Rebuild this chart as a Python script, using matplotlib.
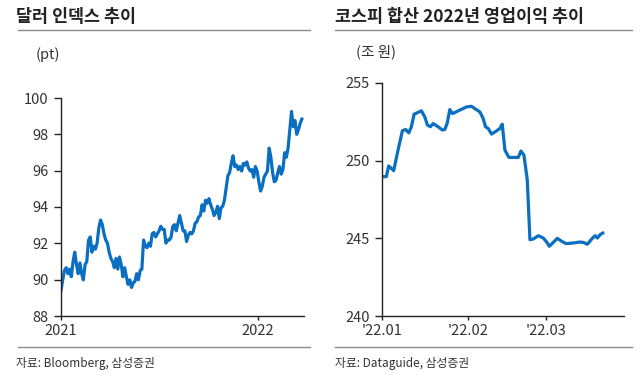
import numpy as np
import pandas as pd
import matplotlib
matplotlib.use("Agg")
import matplotlib.pyplot as plt
from matplotlib.lines import Line2D

plt.rcParams['font.family'] = ['Noto Sans CJK KR', 'DejaVu Sans']

# 달러 인덱스 (pt), 2021-01-01 ~ 2022-03-24 구간에서 읽은 값
dxy_start = "2021-01-01"
dxy_end = "2022-03-24"
dxy_values = [
    89.40, 89.99, 90.50, 90.66, 90.33, 90.58, 90.16, 91.00, 91.51, 90.83,
    90.33, 90.92, 90.33, 89.99, 90.83, 91.00, 92.18, 92.35, 91.51, 91.84,
    91.68, 92.01, 92.86, 93.28, 93.03, 92.52, 92.18, 92.01, 91.51, 91.17,
    91.00, 90.66, 91.17, 90.58, 91.25, 90.83, 90.16, 90.66, 90.16, 89.74,
    89.99, 89.57, 89.82, 89.91, 90.33, 89.99, 90.50, 90.58, 92.18, 91.84,
    91.76, 92.01, 91.84, 92.52, 92.60, 92.35, 92.52, 92.69, 92.94, 92.77,
    92.77, 92.01, 92.18, 92.18, 92.35, 92.94, 93.03, 92.69, 93.11, 93.53,
    93.11, 92.69, 92.69, 92.10, 92.44, 92.60, 92.52, 92.69, 93.11, 93.19,
    93.45, 93.53, 94.12, 93.78, 94.37, 94.21, 94.46, 94.12, 93.87, 93.53,
    93.70, 94.04, 93.36, 93.95, 94.04, 94.37, 95.05, 95.72, 95.89, 96.40,
    96.82, 96.23, 96.31, 96.06, 96.23, 95.98, 96.40, 96.31, 96.48, 96.15,
    95.98, 96.06, 95.64, 96.23, 95.98, 95.39, 94.88, 95.13, 95.64, 95.81,
    95.98, 97.24, 96.74, 95.89, 95.39, 95.47, 95.89, 96.23, 95.81, 96.06,
    96.99, 96.74, 97.24, 98.25, 99.26, 98.42, 98.76, 98.00, 98.25, 98.59,
    98.84,
]
dxy_ticks = ["2021-01-01", "2022-01-01"]
dxy_ticklabels = ["2021", "2022"]
dxy_yticks = [88, 90, 92, 94, 96, 98, 100]

# 코스피 2022년 영업이익 합산 (조 원), x = 2022-01-01 이후 일수
op_days = [
    0, 1.57, 2.41, 4.22, 5.78, 7.35, 8.55, 9.64, 10.60, 11.57,
    14.22, 15.42, 16.39, 17.47, 18.43, 20.24, 21.81, 22.65, 23.49, 24.46,
    25.42, 30.48, 32.29, 33.49, 35.30, 36.51, 37.35, 38.31, 39.52, 41.33,
    42.53, 43.37, 44.34, 45.78, 47.35, 49.16, 50.12, 51.20, 52.41, 53.37,
    54.58, 56.39, 58.19, 59.40, 60.36, 61.57, 63.25, 64.82, 66.39, 69.04,
    71.20, 72.65, 74.10, 75.66, 76.87, 77.71, 78.67, 79.64,
]
op_values = [
    248.97, 248.97, 249.66, 249.36, 250.68, 251.92, 252.01, 251.79, 252.18, 252.99,
    253.21, 252.82, 252.29, 252.18, 252.39, 252.18, 251.97, 252.01, 252.39, 253.29,
    253.03, 253.46, 253.50, 253.35, 253.14, 252.71, 252.18, 252.07, 251.71, 251.92,
    252.07, 252.35, 250.68, 250.21, 250.21, 250.21, 250.62, 250.36, 248.76, 244.91,
    244.96, 245.17, 245.02, 244.76, 244.49, 244.70, 245.00, 244.81, 244.66, 244.70,
    244.76, 244.74, 244.62, 244.96, 245.17, 245.02, 245.24, 245.34,
]
op_ticks = [0, 31, 59]
op_ticklabels = ["'22.01", "'22.02", "'22.03"]
op_yticks = [240, 245, 250, 255]

line_color = "#0B6FC1"
text_color = "#333333"
rule_color = "#8C8C8C"

fig = plt.figure(figsize=(6.41, 3.82), dpi=100)
W, H = 641, 382


def fx(px):
    return px / W


def fy(py):
    return 1 - py / H


def style_axis(ax):
    for s in ["top", "right"]:
        ax.spines[s].set_visible(False)
    for s in ["left", "bottom"]:
        ax.spines[s].set_linewidth(1.0)
        ax.spines[s].set_color("#222222")
    ax.tick_params(axis="both", direction="out", width=1.0,
                   color="#222222", labelcolor=text_color, labelsize=10.5)
    ax.tick_params(axis="y", length=5, pad=4)
    ax.tick_params(axis="x", length=3, pad=3)


# 왼쪽: 달러 인덱스
ax1 = fig.add_axes([fx(61), fy(316), fx(304 - 61), (316 - 98) / H])
dxy_dates = pd.date_range(dxy_start, dxy_end, periods=len(dxy_values))
ax1.plot(dxy_dates, dxy_values, color=line_color, lw=2.3, solid_joinstyle="round")
ax1.set_ylim(88, 100)
ax1.set_yticks(dxy_yticks)
ax1.set_xlim(pd.Timestamp("2021-01-01"), pd.Timestamp("2022-03-28"))
ax1.set_xticks(pd.to_datetime(dxy_ticks))
ax1.set_xticklabels(dxy_ticklabels)
style_axis(ax1)

# 오른쪽: 코스피 영업이익
ax2 = fig.add_axes([fx(382), fy(316), fx(624 - 382), (316 - 83) / H])
ax2.plot(op_days, op_values, color=line_color, lw=2.3, solid_joinstyle="round")
ax2.set_ylim(240, 255)
ax2.set_yticks(op_yticks)
ax2.set_xlim(0, 87.3)
ax2.set_xticks(op_ticks)
ax2.set_xticklabels(op_ticklabels)
style_axis(ax2)

# 제목, 단위, 출처
fig.text(fx(16), fy(17), "달러 인덱스 추이", fontsize=12.5, fontweight="bold",
         color="#222222", va="center", ha="left")
fig.text(fx(335), fy(17), "코스피 합산 2022년 영업이익 추이", fontsize=12.5, fontweight="bold",
         color="#222222", va="center", ha="left")
fig.text(fx(48), fy(55), "(pt)", fontsize=10.5, color=text_color, va="center", ha="center")
fig.text(fx(376), fy(52), "(조 원)", fontsize=10.5, color=text_color, va="center", ha="center")
fig.text(fx(16), fy(363), "자료: Bloomberg, 삼성증권", fontsize=8.5, color=text_color,
         va="center", ha="left")
fig.text(fx(335), fy(363), "자료: Dataguide, 삼성증권", fontsize=8.5, color=text_color,
         va="center", ha="left")

# 구분선
for x0, x1 in [(18, 310), (335, 632)]:
    for y in (30, 347):
        fig.add_artist(Line2D([fx(x0), fx(x1)], [fy(y), fy(y)], color=rule_color, lw=1.0))

fig.savefig("out.png", dpi=100)
